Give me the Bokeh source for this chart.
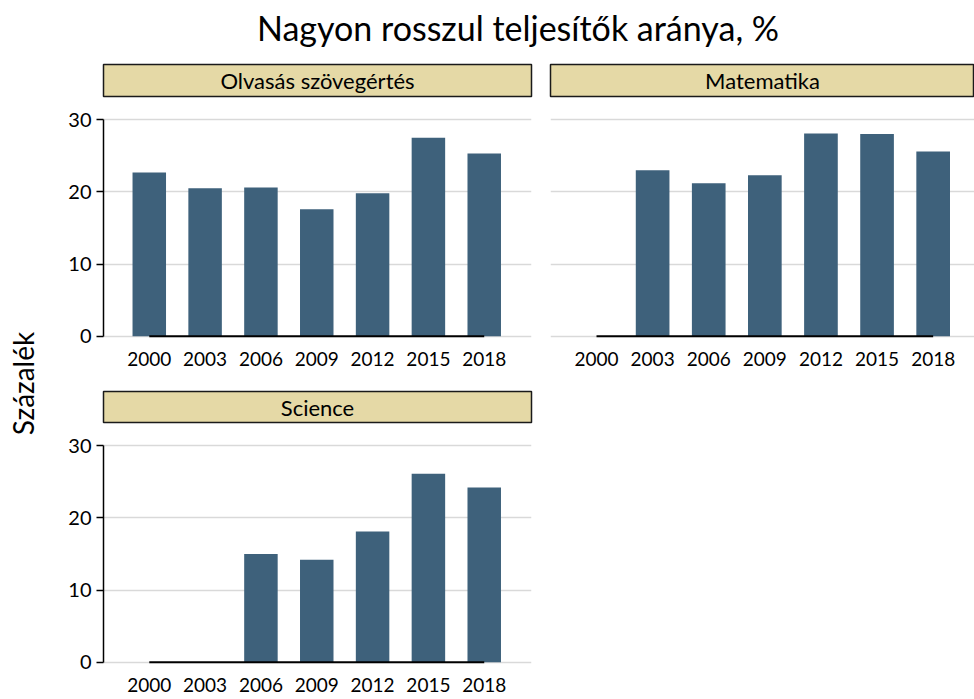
import math
from bokeh.plotting import figure
from bokeh.layouts import column, row
from bokeh.models import Range1d, FixedTicker, ColumnDataSource
from bokeh.core.properties import value
from bokeh.embed import file_html
from bokeh.resources import INLINE

# ---- data ----
years = [2000, 2003, 2006, 2009, 2012, 2015, 2018]
olvasas = [22.7, 20.5, 20.6, 17.6, 19.8, 27.5, 25.3]
matematika = [None, 23.0, 21.2, 22.3, 28.1, 28.0, 25.6]
science = [None, None, 15.0, 14.2, 18.1, 26.1, 24.2]
panel_titles = ["Olvasás szövegértés", "Matematika", "Science"]
y_ticks = [0, 10, 20, 30]
main_title = "Nagyon rosszul teljesítők aránya, %"
y_label = "Százalék"

FONT = "Lato"
BAR = "#3E617B"
STRIP = "#E5D9A6"
GRID = "#D9D9D9"


def strip_fig(text, w, h, bl, br, bt, bb):
    s = figure(width=w, height=h, x_range=Range1d(0, 1), y_range=Range1d(0, 1),
               output_backend="svg", toolbar_location=None,
               min_border_left=bl, min_border_right=br, min_border_top=bt, min_border_bottom=bb,
               background_fill_color=STRIP, border_fill_color="white",
               outline_line_color="#1a1a1a", outline_line_width=1.5)
    s.axis.visible = False
    s.grid.visible = False
    s.text(x=[0.5], y=[0.5], text=[text], text_align="center", text_baseline="middle",
           text_font=value(FONT), text_font_size="22px", text_color="black")
    return s


def panel_fig(vals, w, h, bl, br, bt, bb, x_end, show_y):
    p = figure(width=w, height=h, x_range=Range1d(1997.54, x_end), y_range=Range1d(-0.3, 30.3),
               output_backend="svg", toolbar_location=None,
               min_border_left=bl, min_border_right=br, min_border_top=bt, min_border_bottom=bb,
               background_fill_color="white", border_fill_color="white", outline_line_color=None)
    xs = [yr for yr, v in zip(years, vals) if v is not None]
    ys = [v for v in vals if v is not None]
    src = ColumnDataSource(dict(x=xs, top=ys))
    p.vbar(x="x", top="top", bottom=0, width=1.8, source=src, fill_color=BAR, line_color=None)
    p.segment(x0=[years[0]], y0=[0], x1=[years[-1]], y1=[0], line_color="black", line_width=2)

    p.xgrid.visible = False
    p.ygrid.grid_line_color = GRID
    p.ygrid.grid_line_width = 1.5
    p.yaxis.ticker = FixedTicker(ticks=y_ticks)
    p.yaxis.bounds = (0, 30)
    p.yaxis.axis_line_color = "black"
    p.yaxis.axis_line_width = 1.5
    p.yaxis.major_tick_line_color = "black"
    p.yaxis.major_tick_line_width = 1.5
    p.yaxis.major_tick_out = 7
    p.yaxis.major_tick_in = 0
    p.yaxis.minor_tick_line_color = None
    p.yaxis.major_label_standoff = 5
    p.yaxis.major_label_text_font = FONT
    p.yaxis.major_label_text_font_size = "20px"
    p.yaxis.major_label_text_color = "black"
    if not show_y:
        p.yaxis.visible = False

    p.xaxis.ticker = FixedTicker(ticks=years)
    p.xaxis.axis_line_color = None
    p.xaxis.major_tick_line_color = None
    p.xaxis.minor_tick_line_color = None
    p.xaxis.major_tick_out = 0
    p.xaxis.major_tick_in = 0
    p.xaxis.major_label_standoff = 13
    p.xaxis.major_label_text_font = FONT
    p.xaxis.major_label_text_font_size = "19px"
    p.xaxis.major_label_text_color = "black"
    return p


# title figure
tf = figure(width=974, height=58, x_range=Range1d(0, 974), y_range=Range1d(58, 0),
            output_backend="svg", toolbar_location=None, min_border=0,
            outline_line_color=None, border_fill_color="white", background_fill_color="white")
tf.axis.visible = False
tf.grid.visible = False
tf.text(x=[517.5], y=[27], text=[main_title], text_align="center", text_baseline="middle",
        text_font=value(FONT), text_font_size="34px", text_color="black")

# y label figure
yl = figure(width=40, height=641, x_range=Range1d(0, 40), y_range=Range1d(641, 0),
            output_backend="svg", toolbar_location=None, min_border=0,
            outline_line_color=None, border_fill_color="white", background_fill_color="white")
yl.axis.visible = False
yl.grid.visible = False
yl.text(x=[22], y=[325], text=[y_label], angle=math.pi / 2, text_align="center",
        text_baseline="middle", text_font=value(FONT), text_font_size="28px", text_color="black")

s1 = strip_fig(panel_titles[0], 502, 42, 63, 11, 6, 4)
p1 = panel_fig(olvasas, 502, 288, 63, 9, 17, 50, 2020.54, True)
s2 = strip_fig(panel_titles[1], 432, 42, 8, 0, 6, 4)
p2 = panel_fig(matematika, 432, 288, 8, 0, 17, 50, 2020.21, False)
s3 = strip_fig(panel_titles[2], 502, 38, 63, 11, 3, 4)
p3 = panel_fig(science, 502, 273, 63, 9, 17, 35, 2020.54, True)

layout = column(
    tf,
    row(yl, column(row(column(s1, p1, spacing=0), column(s2, p2, spacing=0), spacing=0),
                   row(column(s3, p3, spacing=0), spacing=0), spacing=0), spacing=0),
    spacing=0,
)

open("out.html", "w").write(file_html(layout, INLINE))
